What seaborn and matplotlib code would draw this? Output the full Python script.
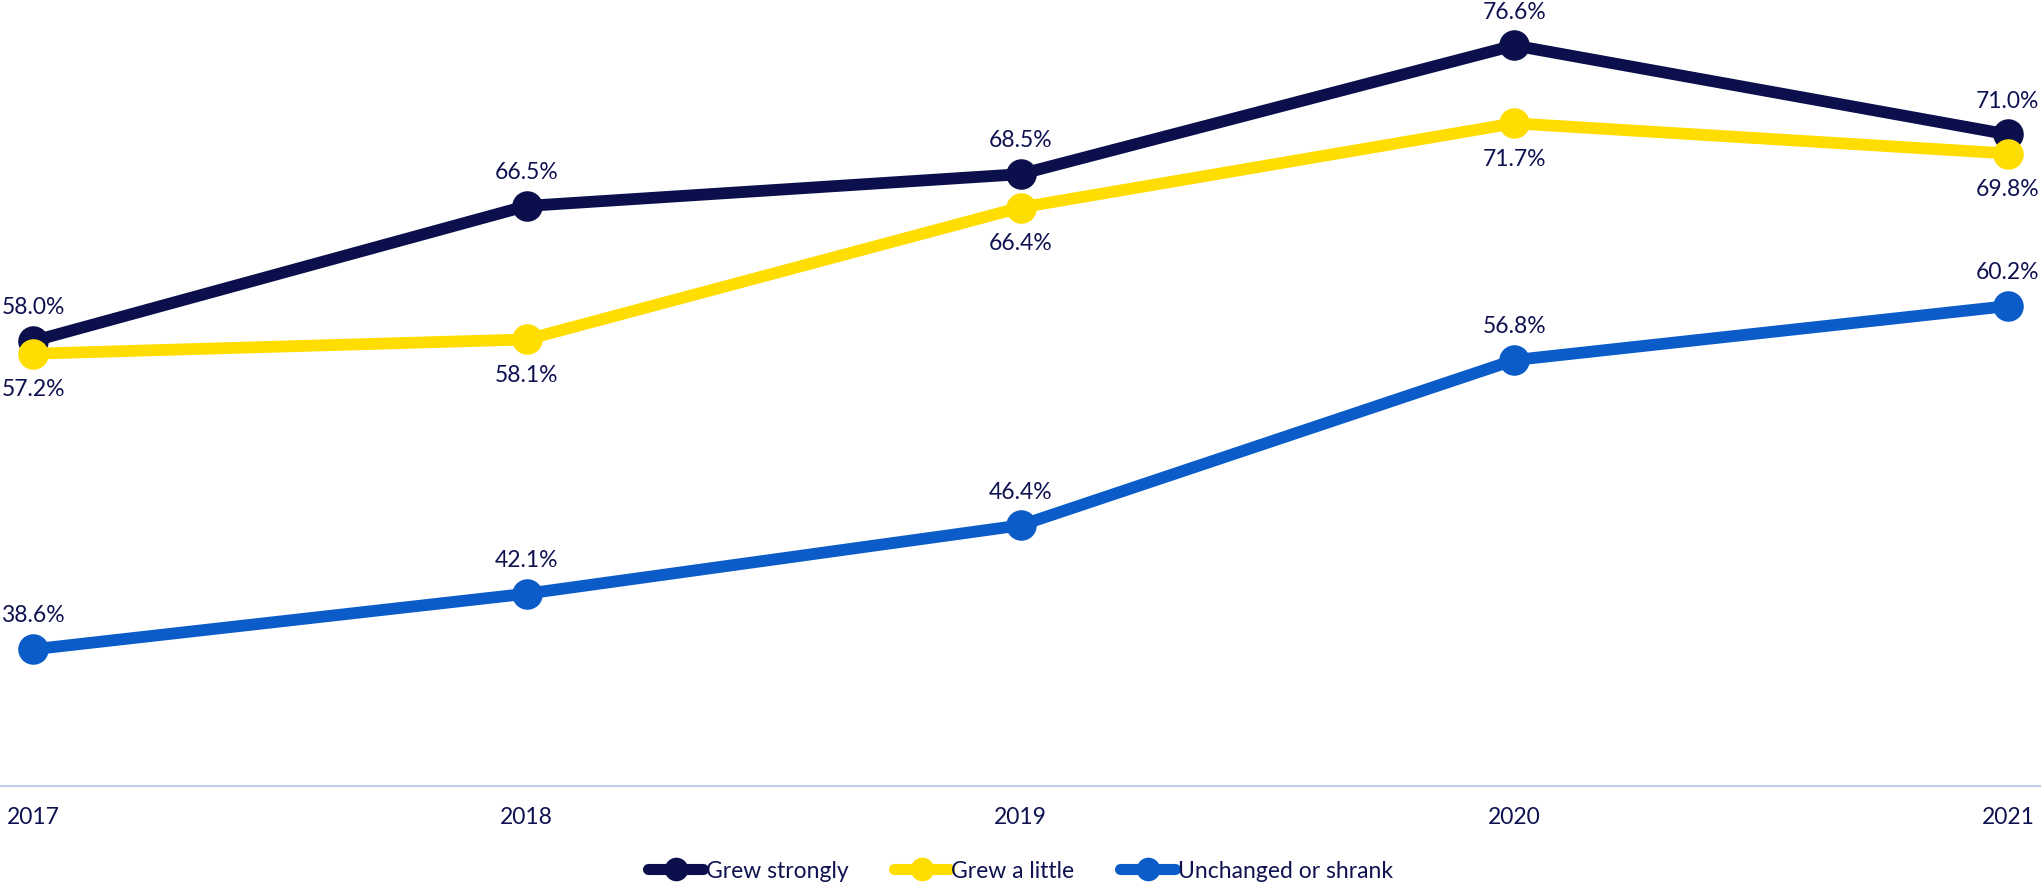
import matplotlib
matplotlib.use("Agg")
import matplotlib.pyplot as plt
import seaborn as sns
import pandas as pd

years = ["2017", "2018", "2019", "2020", "2021"]
grew_strongly = [58.0, 66.5, 68.5, 76.6, 71.0]
grew_little = [57.2, 58.1, 66.4, 71.7, 69.8]
unchanged = [38.6, 42.1, 46.4, 56.8, 60.2]

series_names = ["Grew strongly", "Grew a little", "Unchanged or shrank"]
series_values = [grew_strongly, grew_little, unchanged]
label_side = [
    ["up", "up", "up", "up", "up"],
    ["down", "down", "down", "down", "down"],
    ["up", "up", "up", "up", "up"],
]
colors = ["#0B0F4B", "#FFDD00", "#0B5CC8"]
text_color = "#0E1250"

rows = []
for name, vals in zip(series_names, series_values):
    for i, v in enumerate(vals):
        rows.append({"idx": i, "value": v, "series": name})
df = pd.DataFrame(rows)

sns.set_theme(style="white")
plt.rcParams["font.family"] = ["Lato", "DejaVu Sans"]

fig = plt.figure(figsize=(20.41, 8.85), dpi=100)
ax = fig.add_axes([0.0, 0.1119, 1.0, 0.8881])

sns.lineplot(
    data=df, x="idx", y="value", hue="series", hue_order=series_names,
    palette=colors, marker="o", markersize=22, markeredgewidth=0,
    linewidth=8.5, ax=ax, legend=True, clip_on=False,
)
for line in ax.lines:
    line.set_clip_on(False)

for name, vals, sides in zip(series_names, series_values, label_side):
    for i, v in enumerate(vals):
        dy = 24 if sides[i] == "up" else -26
        ax.annotate(f"{v:.1f}%", (i, v), xytext=(0, dy), textcoords="offset points",
                    ha="center", va="center", fontsize=16.5, color=text_color)

ax.set_xlim(-0.067, 4.067)
ax.set_ylim(30, 79.46)
ax.set_xticks(range(len(years)))
ax.set_xticklabels(years, fontsize=16.5, color=text_color)
ax.tick_params(axis="x", length=0, pad=15)
ax.set_yticks([])
ax.set_xlabel("")
ax.set_ylabel("")
for s in ["top", "right", "left"]:
    ax.spines[s].set_visible(False)
ax.spines["bottom"].set_color("#C5C9F0")
ax.spines["bottom"].set_linewidth(1.5)

handles, labels = ax.get_legend_handles_labels()
ax.legend_.remove()
for h in handles:
    h.set_markersize(17)
    h.set_linewidth(8)
leg = fig.legend(handles, labels, loc="center", bbox_to_anchor=(0.5, 14 / 885),
                 ncol=3, frameon=False, fontsize=16.5, handlelength=2.4,
                 handletextpad=0.1, columnspacing=2.0)
for t in leg.get_texts():
    t.set_color(text_color)

fig.savefig("out.png", dpi=100)
